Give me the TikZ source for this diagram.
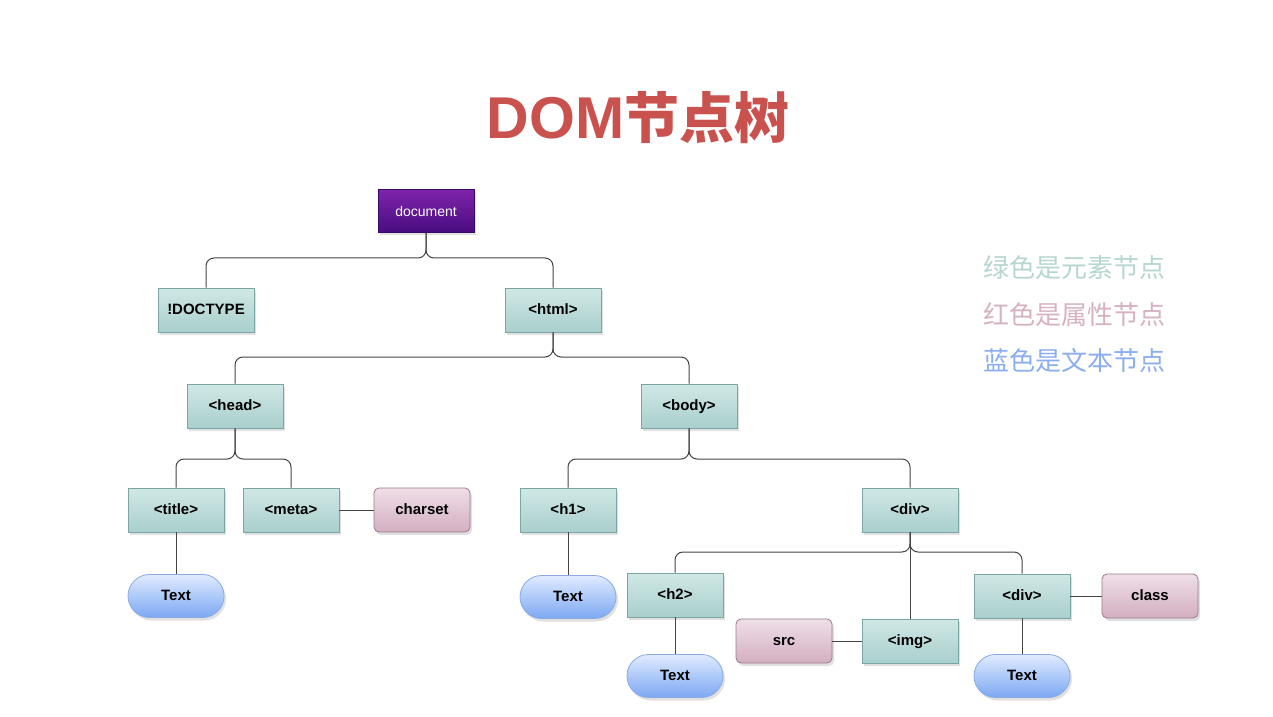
\documentclass[tikz,border=0pt]{standalone}
\usepackage{fontspec}
\setmainfont{Liberation Sans}
\newfontfamily\cjk{Noto Sans CJK SC}
\usetikzlibrary{shadows,shapes.misc}
\definecolor{elemtop}{HTML}{D0E8E6}
\definecolor{elembot}{HTML}{A9CFCC}
\definecolor{elemline}{HTML}{7AA6A3}
\definecolor{attrtop}{HTML}{EFDFE7}
\definecolor{attrbot}{HTML}{D3AEC1}
\definecolor{attrline}{HTML}{9C7A8C}
\definecolor{txttop}{HTML}{E0EBFF}
\definecolor{txtbot}{HTML}{7CA8F2}
\definecolor{txtline}{HTML}{8AAAE4}
\definecolor{doctop}{HTML}{7E24AA}
\definecolor{docbot}{HTML}{480C80}
\definecolor{docline}{HTML}{3A0A6A}
\definecolor{titlered}{HTML}{C9524F}
\definecolor{leggreen}{HTML}{B6D6D1}
\definecolor{legpink}{HTML}{D5B1C2}
\definecolor{legblue}{HTML}{8BAEEE}
\definecolor{connc}{HTML}{444444}
\tikzset{
  x=1pt,y=1pt,
  shad/.style={drop shadow={shadow xshift=2pt,shadow yshift=-3pt,opacity=0.2,fill=black!60}},
  elem/.style={shad,draw=elemline,line width=0.8pt,top color=elemtop,bottom color=elembot,
    minimum width=96pt,minimum height=44pt,inner sep=0pt,text height=11pt,text depth=3pt,
    font=\bfseries\fontsize{15}{18}\selectfont},
  attr/.style={elem,rounded corners=5pt,draw=attrline,top color=attrtop,bottom color=attrbot},
  txt/.style={shad,rounded rectangle,draw=txtline,line width=0.8pt,top color=txttop,bottom color=txtbot,
    minimum width=96pt,minimum height=43pt,inner sep=0pt,text height=11pt,text depth=3pt,
    font=\bfseries\fontsize{15}{18}\selectfont},
  docnode/.style={shad,draw=docline,line width=0.8pt,top color=doctop,bottom color=docbot,
    minimum width=96pt,minimum height=43pt,inner sep=0pt,text=white,font=\fontsize{14}{17}\selectfont},
  conn/.style={draw=connc,line width=1pt,rounded corners=8pt},
  legend/.style={font=\cjk\fontsize{26}{30}\selectfont}
}
\begin{document}
\begin{tikzpicture}
\useasboundingbox[fill=white] (0,0) rectangle (1273,716);
\node[text=titlered,inner sep=0pt] (title) at (638,598) {\bfseries\fontsize{59}{64}\selectfont DOM\cjk\fontsize{55}{64}\selectfont 节点树};
\node[legend,text=leggreen] (leg1) at (1074,448) {绿色是元素节点};
\node[legend,text=legpink] (leg2) at (1074,401) {红色是属性节点};
\node[legend,text=legblue] (leg3) at (1074,355) {蓝色是文本节点};

\node[docnode] (document) at (426,505) {document};
\node[elem] (doctype) at (206,406) {!DOCTYPE};
\node[elem] (html) at (553,406) {<html>};
\node[elem] (head) at (235,310) {<head>};
\node[elem] (body) at (689,310) {<body>};
\node[elem] (title1) at (176,206) {<title>};
\node[elem] (meta) at (291,206) {<meta>};
\node[attr] (charset) at (422,206) {charset};
\node[elem] (h1) at (568,206) {<h1>};
\node[elem] (div) at (910,206) {<div>};
\node[txt] (text1) at (176,120) {Text};
\node[txt] (text2) at (568,119) {Text};
\node[elem] (h2) at (675,121) {<h2>};
\node[txt] (text3) at (675,40) {Text};
\node[attr] (src) at (784,75) {src};
\node[elem] (img) at (910,75) {<img>};
\node[elem] (div2) at (1022,120) {<div>};
\node[attr] (class) at (1150,120) {class};
\node[txt] (text4) at (1022,40) {Text};

\draw[conn] (document.south) -- (document.south |- 0,458) -| (doctype.north);
\draw[conn] (document.south) -- (document.south |- 0,458) -| (html.north);
\draw[conn] (html.south) -- (html.south |- 0,359) -| (head.north);
\draw[conn] (html.south) -- (html.south |- 0,359) -| (body.north);
\draw[conn] (head.south) -- (head.south |- 0,257) -| (title1.north);
\draw[conn] (head.south) -- (head.south |- 0,257) -| (meta.north);
\draw[conn] (body.south) -- (body.south |- 0,257) -| (h1.north);
\draw[conn] (body.south) -- (body.south |- 0,257) -| (div.north);
\draw[conn] (div.south) -- (div.south |- 0,164) -| (h2.north);
\draw[conn] (div.south) -- (div.south |- 0,164) -| (div2.north);
\draw[conn] (div.south) -- (img.north);
\draw[conn] (meta.east) -- (charset.west);
\draw[conn] (src.east) -- (img.west);
\draw[conn] (div2.east) -- (class.west);
\draw[conn] (title1.south) -- (text1.north);
\draw[conn] (h1.south) -- (text2.north);
\draw[conn] (h2.south) -- (text3.north);
\draw[conn] (div2.south) -- (text4.north);
\end{tikzpicture}
\end{document}
